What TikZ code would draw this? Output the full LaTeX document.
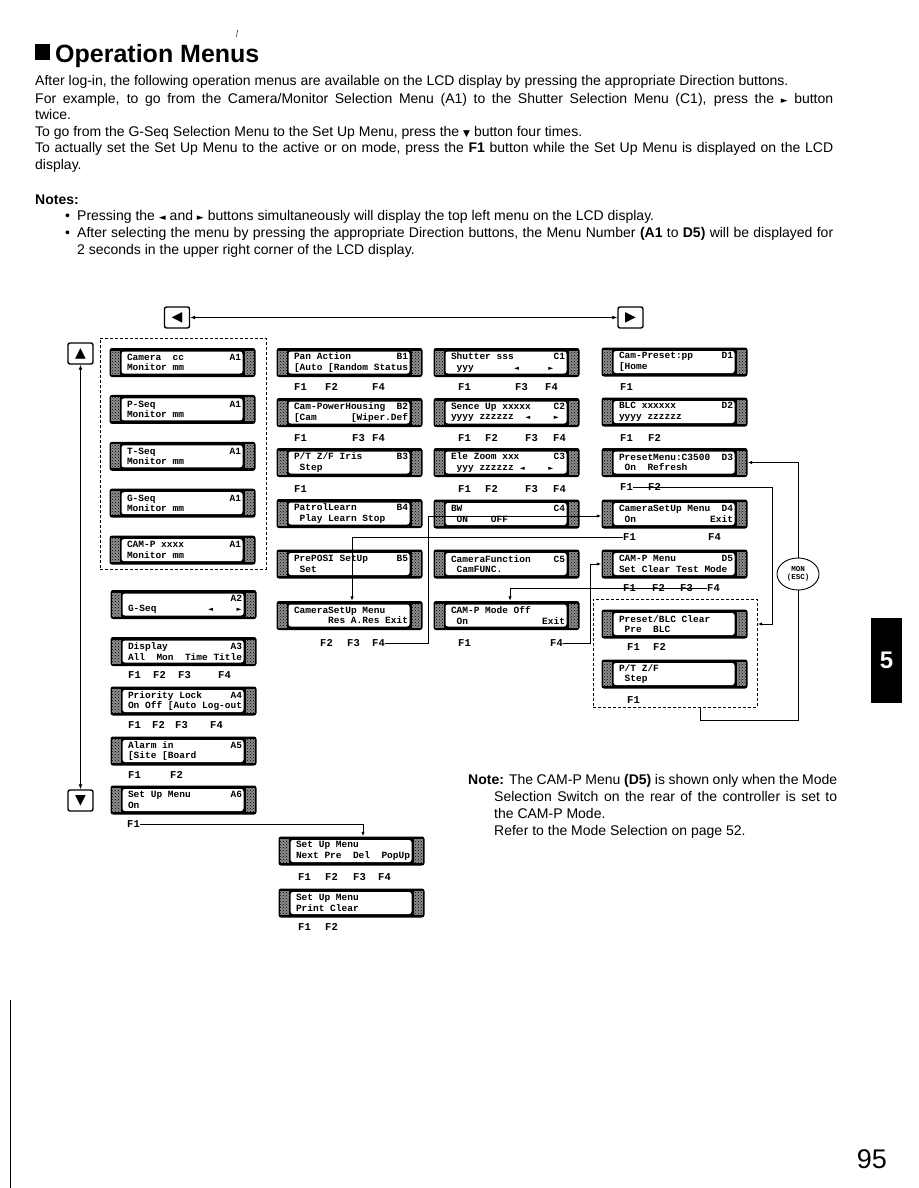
\documentclass[tikz,border=0pt]{standalone}
\usepackage{fontspec}
\setmainfont{Liberation Sans}
\newfontfamily\lcdfont{Liberation Mono}
\newfontfamily\symfont{DejaVu Sans}
\usetikzlibrary{arrows.meta,positioning,patterns,shapes.geometric,calc}
\definecolor{lcdgrain}{HTML}{8C8C8C}
\newcommand{\lcdtext}[3]{\hspace*{3pt}\makebox[114pt][l]{#1\hfill#2}\\\hspace*{3pt}\makebox[114pt][l]{#3}}
\newcommand{\lcdL}{\makebox[0.6em]{\symfont\fontsize{6.5}{6.5}\selectfont ◄}}
\newcommand{\lcdR}{\makebox[0.6em]{\symfont\fontsize{6.5}{6.5}\selectfont ►}}
\newcommand{\txtsym}[1]{{\symfont\fontsize{9}{9}\selectfont #1}}
\tikzset{
  lcd/.style={fill=black,rounded corners=2.5pt,minimum width=146pt,minimum height=29pt,inner sep=0pt,align=left,
    font=\lcdfont\bfseries\fontsize{9.5}{10.5}\selectfont,
    path picture={
      \fill[lcdgrain,sharp corners] ([shift={(1.5pt,-2.5pt)}]path picture bounding box.north west) rectangle ([shift={(10.5pt,2.5pt)}]path picture bounding box.south west);
      \fill[pattern=crosshatch dots,pattern color=black,sharp corners] ([shift={(1.5pt,-2.5pt)}]path picture bounding box.north west) rectangle ([shift={(10.5pt,2.5pt)}]path picture bounding box.south west);
      \fill[lcdgrain,sharp corners] ([shift={(-10.5pt,-2.5pt)}]path picture bounding box.north east) rectangle ([shift={(-1.5pt,2.5pt)}]path picture bounding box.south east);
      \fill[pattern=crosshatch dots,pattern color=black,sharp corners] ([shift={(-10.5pt,-2.5pt)}]path picture bounding box.north east) rectangle ([shift={(-1.5pt,2.5pt)}]path picture bounding box.south east);
      \fill[white,rounded corners=2.5pt] ([shift={(12pt,-3.5pt)}]path picture bounding box.north west) rectangle ([shift={(-13pt,3.5pt)}]path picture bounding box.south east);
    }},
  fkey/.style={font=\lcdfont\bfseries\fontsize{10.5}{11}\selectfont,anchor=west,inner sep=0pt},
  navbtn/.style={draw,line width=1.4pt,rounded corners=2pt,minimum width=25pt,minimum height=21pt,inner sep=0pt,font=\symfont\fontsize{14}{14}\selectfont},
  grpbox/.style={draw,dashed,line width=0.7pt,dash pattern=on 3pt off 2pt},
  menuflow/.style={line width=0.9pt,-{Latex[length=4.5pt,width=3.5pt]}},
  menuline/.style={line width=0.9pt},
  navflow/.style={line width=0.9pt,{Latex[length=5pt,width=4pt]}-{Latex[length=5pt,width=4pt]}},
  bodytext/.style={anchor=base west,inner sep=0pt,font=\fontsize{14}{16}\selectfont},
}
\begin{document}
\begin{tikzpicture}[x=1pt,y=1pt,node distance=17.5pt]
\fill[white] (0,0) rectangle (918,-1188);
\useasboundingbox (0,0) rectangle (918,-1188);
% heading and introduction
\fill (35,-44) rectangle (50,-60);
\draw[line width=0.5pt] (237.5,-30) -- (236.5,-37);
\node[anchor=base west,inner sep=0pt,font=\bfseries\fontsize{25}{25}\selectfont] (title) at (55,-62.5) {Operation Menus};
\node[bodytext] (intro1) at (35,-85.5) {After log-in, the following operation menus are available on the LCD display by pressing the appropriate Direction buttons.};
\node[bodytext] (intro2) at (35,-103.5) {\makebox[798pt][s]{For example, to go from the Camera/Monitor Selection Menu (A1) to the Shutter Selection Menu (C1), press the \txtsym{►} button}};
\node[bodytext] (intro3) at (35,-120) {twice.};
\node[bodytext] (intro4) at (35,-136.5) {To go from the G-Seq Selection Menu to the Set Up Menu, press the \txtsym{▼} button four times.};
\node[bodytext] (intro5) at (35,-152.5) {\makebox[798pt][s]{To actually set the Set Up Menu to the active or on mode, press the \textbf{F1} button while the Set Up Menu is displayed on the LCD}};
\node[bodytext] (intro6) at (35,-169) {display.};
\node[bodytext] (notes) at (35,-204) {\textbf{Notes:}};
\node[bodytext] (bul1) at (65,-220) {•};
\node[bodytext] (note1) at (77,-220) {Pressing the \txtsym{◄} and \txtsym{►} buttons simultaneously will display the top left menu on the LCD display.};
\node[bodytext] (bul2) at (65,-237) {•};
\node[bodytext] (note2) at (77,-237) {\makebox[756pt][s]{After selecting the menu by pressing the appropriate Direction buttons, the Menu Number \textbf{(A1} to \textbf{D5)} will be displayed for}};
\node[bodytext] (note2b) at (77,-254) {2 seconds in the upper right corner of the LCD display.};

% direction buttons
\node[navbtn] (btnleft) at (177,-317.5) {◀};
\node[navbtn] (btnright) at (630.5,-317.5) {▶};
\node[navbtn] (btnup) at (80.5,-353.5) {▲};
\node[navbtn] (btndown) at (80.5,-800.5) {▼};
\draw[navflow] (btnleft) -- (btnright);
\draw[navflow] (btnup) -- (btndown);

% column A
\node[grpbox,minimum width=166pt,minimum height=231pt] (grpA) at (183,-453.5) {};
\node[lcd] (a1cam) at (182.5,-362.5) {\lcdtext{Camera~~cc}{A1}{Monitor~mm}};
\node[lcd,below=of a1cam] (a1pseq) {\lcdtext{P-Seq}{A1}{Monitor~mm}};
\node[lcd,below=of a1pseq] (a1tseq) {\lcdtext{T-Seq}{A1}{Monitor~mm}};
\node[lcd,below=of a1tseq] (a1gseq) {\lcdtext{G-Seq}{A1}{Monitor~mm}};
\node[lcd,below=of a1gseq] (a1camp) {\lcdtext{CAM-P~xxxx}{A1}{Monitor~mm}};
\node[lcd] (a2) at (183.5,-604.5) {\lcdtext{}{A2}{G-Seq~~~~~~~~~\lcdL~~~~\lcdR}};
\node[lcd] (a3) at (183.5,-651.5) {\lcdtext{Display}{A3}{All~~Mon~~Time~Title}};
\node[lcd] (a4) at (183.5,-701) {\lcdtext{Priority~Lock}{A4}{On~Off~[Auto~Log-out}};
\node[lcd] (a5) at (183.5,-751) {\lcdtext{Alarm~in}{A5}{[Site~[Board}};
\node[lcd] (a6) at (183.5,-800) {\lcdtext{Set~Up~Menu}{A6}{On}};
\foreach \k/\x in {1/128,2/153,3/178,4/218} \node[fkey] (fa3\k) at (\x,-675) {F\k};
\foreach \k/\x in {1/128,2/152,3/175,4/210} \node[fkey] (fa4\k) at (\x,-725) {F\k};
\foreach \k/\x in {1/128,2/170} \node[fkey] (fa5\k) at (\x,-775) {F\k};
\node[fkey] (fa61) at (127,-824) {F1};

% column B
\node[lcd] (b1) at (349.5,-362.5) {\lcdtext{Pan~Action}{B1}{[Auto~[Random~Status}};
\node[lcd] (b2) at (349.5,-412.5) {\lcdtext{Cam-PowerHousing}{B2}{[Cam~~~~~~[Wiper.Def}};
\node[lcd] (b3) at (349.5,-462.5) {\lcdtext{P/T~Z/F~Iris}{B3}{~Step}};
\node[lcd] (b4) at (349.5,-513.5) {\lcdtext{PatrolLearn}{B4}{~Play~Learn~Stop}};
\node[lcd] (b5) at (349.5,-564) {\lcdtext{PrePOSI~SetUp}{B5}{~Set}};
\node[lcd] (bsub) at (349.5,-615.5) {\lcdtext{CameraSetUp~Menu}{}{\hfill Res~A.Res~Exit}};
\foreach \k/\x in {1/294,2/325,4/372} \node[fkey] (fb1\k) at (\x,-387) {F\k};
\foreach \k/\x in {1/294,3/352,4/372} \node[fkey] (fb2\k) at (\x,-438) {F\k};
\node[fkey] (fb31) at (294,-489) {F1};
\foreach \k/\x in {2/320,3/347,4/372} \node[fkey] (fbs\k) at (\x,-643) {F\k};

% column C
\node[lcd] (c1) at (506.5,-362.5) {\lcdtext{Shutter~sss}{C1}{~yyy~~~~~~~\lcdL~~~~~\lcdR}};
\node[lcd] (c2) at (506.5,-412.5) {\lcdtext{Sence~Up~xxxxx}{C2}{yyyy~zzzzzz~~\lcdL~~~~\lcdR}};
\node[lcd] (c3) at (506.5,-462.5) {\lcdtext{Ele~Zoom~xxx}{C3}{~yyy~zzzzzz~\lcdL~~~~\lcdR}};
\node[lcd] (c4) at (506.5,-514) {\lcdtext{BW}{C4}{~ON~~~~OFF}};
\node[lcd] (c5) at (506.5,-564) {\lcdtext{CameraFunction}{C5}{~CamFUNC.}};
\node[lcd] (csub) at (506.5,-615.5) {\lcdtext{CAM-P~Mode~Off}{}{~On\hfill Exit}};
\foreach \k/\x in {1/458,3/515,4/545} \node[fkey] (fc1\k) at (\x,-387) {F\k};
\foreach \k/\x in {1/458,2/485,3/525,4/553} \node[fkey] (fc2\k) at (\x,-438) {F\k};
\foreach \k/\x in {1/458,2/485,3/525,4/553} \node[fkey] (fc3\k) at (\x,-489) {F\k};
\foreach \k/\x in {1/458,4/550} \node[fkey] (fcs\k) at (\x,-643) {F\k};

% column D
\node[lcd] (d1) at (674.5,-362) {\lcdtext{Cam-Preset:pp}{D1}{[Home}};
\node[lcd] (d2) at (674.5,-412) {\lcdtext{BLC~xxxxxx}{D2}{yyyy~zzzzzz}};
\node[lcd] (d3) at (674.5,-462.5) {\lcdtext{PresetMenu:C3500}{D3}{~On~~Refresh}};
\node[lcd] (d4) at (674.5,-514) {\lcdtext{CameraSetUp~Menu}{D4}{~On\hfill Exit}};
\node[lcd] (d5) at (674.5,-564) {\lcdtext{CAM-P~Menu}{D5}{Set~Clear~Test~Mode}};
\node[grpbox,minimum width=164pt,minimum height=108pt] (grpD) at (675,-653) {};
\node[lcd] (pbc) at (674.5,-624) {\lcdtext{Preset/BLC~Clear}{}{~Pre~~BLC}};
\node[lcd] (ptzf) at (674.5,-674) {\lcdtext{P/T~Z/F}{}{~Step}};
\node[fkey] (fd11) at (620,-387) {F1};
\foreach \k/\x in {1/620,2/648} \node[fkey] (fd2\k) at (\x,-438) {F\k};
\foreach \k/\x in {1/620,2/648} \node[fkey] (fd3\k) at (\x,-487) {F\k};
\foreach \k/\x in {1/623,4/708} \node[fkey] (fd4\k) at (\x,-537) {F\k};
\foreach \k/\x in {1/623,2/652,3/680,4/707} \node[fkey] (fd5\k) at (\x,-588) {F\k};
\foreach \k/\x in {1/627,2/653} \node[fkey] (fpb\k) at (\x,-647) {F\k};
\node[fkey] (fpt1) at (627,-700) {F1};
\node[draw,ellipse,line width=0.9pt,minimum width=42pt,minimum height=32pt,inner sep=0pt,align=center,font=\lcdfont\bfseries\fontsize{7.5}{8.5}\selectfont] (monesc) at (798,-574) {MON\\(ESC)};

% set up menus
\node[lcd] (supop) at (351.5,-851) {\lcdtext{Set~Up~Menu}{}{Next~Pre~~Del~~PopUp}};
\node[lcd] (suprint) at (351.5,-903) {\lcdtext{Set~Up~Menu}{}{Print~Clear}};
\foreach \k/\x in {1/298,2/325,3/353,4/378} \node[fkey] (fsp\k) at (\x,-877) {F\k};
\foreach \k/\x in {1/298,2/325} \node[fkey] (fsr\k) at (\x,-927) {F\k};

% menu jumps
\coordinate (kneeBC) at (428,-516);
\draw[menuflow] (fbs4.east) -| (kneeBC) -- (kneeBC -| d4.west);
\draw[menuflow] (fd41.west) -| ([xshift=2.5pt]bsub.north);
\draw[menuflow] (fcs4.east) -| ([xshift=-11pt]d5.west) -- (d5.west);
\draw[menuflow] (fd54.west) -| ([xshift=3.5pt]csub.north);
\draw[menuflow] (fd31.east) -| ([xshift=25pt]pbc.east) -- ([xshift=10pt]pbc.east);
\draw[menuline] ([xshift=25pt]grpD.south) -- ++(0,-13) -| (monesc.south);
\draw[menuflow] (monesc.north) |- (d3.east);
\draw[menuflow] (fa61.east) -| ([xshift=11.5pt]supop.north);

% note
\node[bodytext] (cnote1) at (468,-784) {\makebox[369pt][s]{\textbf{Note:} The CAM-P Menu \textbf{(D5)} is shown only when the Mode}};
\node[bodytext] (cnote2) at (494,-801) {\makebox[343pt][s]{Selection Switch on the rear of the controller is set to}};
\node[bodytext] (cnote3) at (494,-818) {the CAM-P Mode.};
\node[bodytext] (cnote4) at (494,-835) {Refer to the Mode Selection on page 52.};

% page furniture
\node[fill=black,minimum width=31pt,minimum height=85pt,inner sep=0pt,text=white,font=\bfseries\fontsize{24}{24}\selectfont] (chaptab) at (886.5,-660.5) {5};
\node[anchor=base east,inner sep=0pt,font=\fontsize{27}{27}\selectfont] (pagenum) at (887,-1168) {95};
\draw[line width=0.6pt] (10,-1000) -- (10,-1188);
\end{tikzpicture}
\end{document}
